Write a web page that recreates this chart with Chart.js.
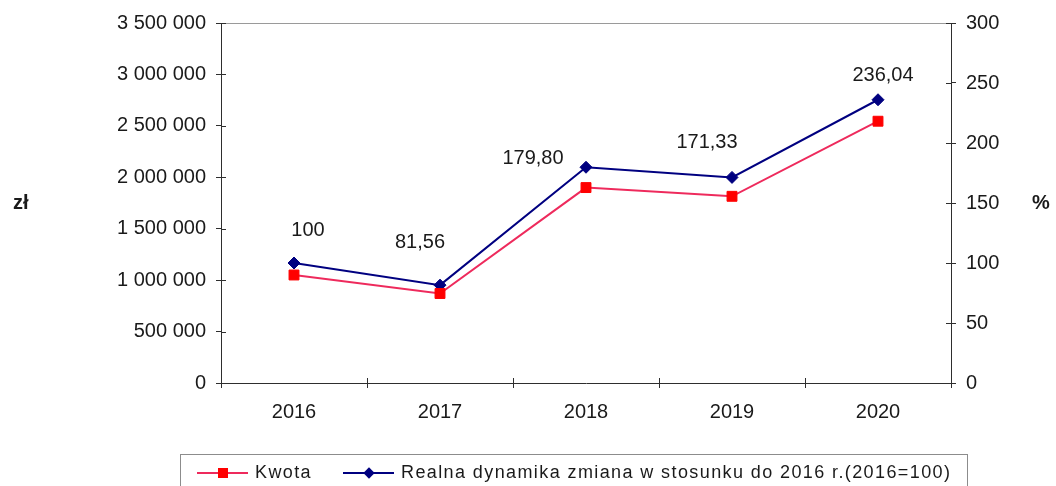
<!DOCTYPE html>
<html lang="pl">
<head>
<meta charset="UTF-8">
<title>Kwota i realna dynamika 2016-2020</title>
<script src="https://cdn.jsdelivr.net/npm/chart.js"></script>
<style>
  body {
    margin: 0;
    background: #fff;
    font-family: 'Liberation Sans', Arial, sans-serif;
    color: #1a1a1a;
  }
  .wrap {
    position: relative;
    width: 1056px;
    height: 486px;
    overflow: hidden;
  }
  .axis-title {
    position: absolute;
    font-weight: bold;
    font-size: 20px;
  }
  .legend {
    position: absolute;
    left: 180px;
    top: 454px;
    width: 788px;
    height: 44px;
    border: 1px solid #8c8c8c;
    box-sizing: border-box;
    font-size: 18px;
    letter-spacing: 1.4px;
  }
  .legend .item {
    position: absolute;
    top: 6px;
    line-height: 22px;
    white-space: nowrap;
  }
  .legend .glyph {
    position: absolute;
    top: 17px;
    width: 51px;
    height: 2px;
  }
  .legend .glyph i {
    position: absolute;
    left: 21px;
    top: -4px;
    width: 10px;
    height: 10px;
  }
  .legend .glyph.diamond i {
    left: 22px;
    top: -3px;
    width: 8px;
    height: 8px;
    transform: rotate(45deg);
  }
</style>
</head>
<body>
<div class="wrap">
  <canvas id="chart" width="1056" height="486"></canvas>
  <div class="axis-title" style="left:13px; top:191px;">zł</div>
  <div class="axis-title" style="left:1032px; top:191px;">%</div>
  <div class="legend">
    <span class="glyph" style="left:16px; background:#ee2a5c;"><i style="background:#ff0000;"></i></span>
    <span class="item" style="left:74px;">Kwota</span>
    <span class="glyph diamond" style="left:162px; background:#000080;"><i style="background:#000080;"></i></span>
    <span class="item" style="left:220px;">Realna dynamika zmiana w stosunku do 2016 r.(2016=100)</span>
  </div>
</div>
<script>
  // Dane
  const years = ['2016', '2017', '2018', '2019', '2020'];
  const kwota = [1050000, 870000, 1900000, 1815000, 2545000];
  const dynamika = [100, 81.56, 179.80, 171.33, 236.04];

  // Położenie etykiet wartości względem punktów (px)
  const labelOffsets = [[14, -33], [-20, -43], [-53, -9], [-25, -35], [5, -24]];

  const FONT = "'Liberation Sans', Arial, sans-serif";
  const AXIS = '#2e2e2e';

  function formatPL(v) {
    return String(v).replace(/\B(?=(\d{3})+(?!\d))/g, ' ');
  }

  function formatPercent(v) {
    return Number.isInteger(v) ? String(v) : v.toFixed(2).replace('.', ',');
  }

  // Ramka wykresu: górna krawędź i wewnętrzne połówki znaczników osi
  const axisMarks = {
    id: 'axisMarks',
    afterDraw(chart) {
      const { ctx, chartArea: a, scales } = chart;
      ctx.save();
      ctx.lineWidth = 1;
      ctx.strokeStyle = '#9a9a9a';
      ctx.beginPath();
      ctx.moveTo(a.left, a.top + 0.5);
      ctx.lineTo(a.right, a.top + 0.5);
      ctx.stroke();

      ctx.strokeStyle = AXIS;
      ctx.beginPath();
      scales.y.ticks.forEach((t, i) => {
        const y = Math.round(scales.y.getPixelForTick(i)) + 0.5;
        ctx.moveTo(a.left, y);
        ctx.lineTo(a.left + 5, y);
      });
      scales.y1.ticks.forEach((t, i) => {
        const y = Math.round(scales.y1.getPixelForTick(i)) + 0.5;
        ctx.moveTo(a.right, y);
        ctx.lineTo(a.right - 5, y);
      });
      for (let i = 0; i <= years.length; i++) {
        const x = Math.round(scales.x.getPixelForValue(i - 0.5)) + 0.5;
        ctx.moveTo(x, a.bottom);
        ctx.lineTo(x, a.bottom - 5);
      }
      ctx.stroke();
      ctx.restore();
    }
  };

  // Etykiety wartości dla serii dynamiki
  const valueLabels = {
    id: 'valueLabels',
    afterDatasetsDraw(chart) {
      const { ctx } = chart;
      const meta = chart.getDatasetMeta(1);
      ctx.save();
      ctx.font = '20px ' + FONT;
      ctx.fillStyle = '#1a1a1a';
      ctx.textAlign = 'center';
      ctx.textBaseline = 'middle';
      meta.data.forEach((pt, i) => {
        const [dx, dy] = labelOffsets[i];
        ctx.fillText(formatPercent(dynamika[i]), pt.x + dx, pt.y + dy);
      });
      ctx.restore();
    }
  };

  new Chart(document.getElementById('chart'), {
    type: 'line',
    data: {
      labels: years,
      datasets: [
        {
          label: 'Kwota',
          data: kwota,
          yAxisID: 'y',
          borderColor: '#ee2a5c',
          borderWidth: 2,
          pointStyle: 'rect',
          pointRadius: 7,
          pointBackgroundColor: '#ff0000',
          pointBorderColor: '#ff0000',
          pointBorderWidth: 1,
          tension: 0
        },
        {
          label: 'Realna dynamika zmiana w stosunku do 2016 r.(2016=100)',
          data: dynamika,
          yAxisID: 'y1',
          borderColor: '#000080',
          borderWidth: 2,
          pointStyle: 'rectRot',
          pointRadius: 6,
          pointBackgroundColor: '#000080',
          pointBorderColor: '#000080',
          pointBorderWidth: 1,
          tension: 0
        }
      ]
    },
    options: {
      responsive: false,
      animation: false,
      layout: { padding: { top: 23, left: 0, right: 0, bottom: 0 } },
      plugins: {
        legend: { display: false },
        tooltip: { enabled: false }
      },
      scales: {
        x: {
          offset: true,
          afterFit(scale) { scale.height = 103; },
          grid: {
            offset: true,
            drawOnChartArea: false,
            tickLength: 5,
            color: AXIS
          },
          border: { color: AXIS, width: 1 },
          ticks: { font: { family: FONT, size: 20 }, color: '#1a1a1a', padding: 12 }
        },
        y: {
          position: 'left',
          min: 0,
          max: 3500000,
          afterFit(scale) { scale.width = 221; },
          grid: { drawOnChartArea: false, tickLength: 5, color: AXIS },
          border: { color: AXIS, width: 1 },
          ticks: {
            stepSize: 500000,
            font: { family: FONT, size: 20 },
            color: '#1a1a1a',
            padding: 10,
            callback: (v) => formatPL(v)
          }
        },
        y1: {
          position: 'right',
          min: 0,
          max: 300,
          afterFit(scale) { scale.width = 105; },
          grid: { drawOnChartArea: false, tickLength: 5, color: AXIS },
          border: { color: AXIS, width: 1 },
          ticks: {
            stepSize: 50,
            font: { family: FONT, size: 20 },
            color: '#1a1a1a',
            padding: 10
          }
        }
      }
    },
    plugins: [axisMarks, valueLabels]
  });
</script>
</body>
</html>
